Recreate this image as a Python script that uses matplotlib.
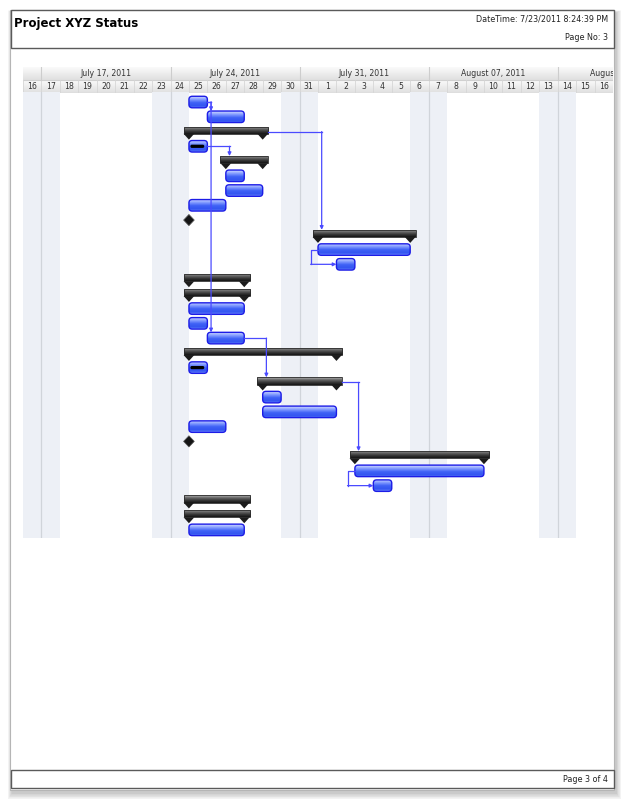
import datetime
import numpy as np
import matplotlib
matplotlib.use('Agg')
import matplotlib.pyplot as plt
from matplotlib.patches import FancyBboxPatch, Rectangle, Polygon
from matplotlib.colors import LinearSegmentedColormap

W, H = 628, 805
fmt = '%Y-%m-%d'

view_start = '2011-07-16'
view_days = 32

# one entry per gantt row, top to bottom
task_start = ['2011-07-25', '2011-07-26', '2011-07-25', '2011-07-25', '2011-07-27',
              '2011-07-27', '2011-07-27', '2011-07-25', '2011-07-25', '2011-08-01',
              '2011-08-01', '2011-08-02', '2011-07-25', '2011-07-25', '2011-07-25',
              '2011-07-25', '2011-07-26', '2011-07-25', '2011-07-25', '2011-07-29',
              '2011-07-29', '2011-07-29', '2011-07-25', '2011-07-25', '2011-08-03',
              '2011-08-03', '2011-08-04', '2011-07-25', '2011-07-25', '2011-07-25']
task_days = [1, 2, 4, 1, 2, 1, 2, 2, 0, 5,
             5, 1, 3, 3, 3, 1, 2, 8, 1, 4,
             1, 4, 2, 0, 7, 7, 1, 3, 3, 3]
task_kind = ['task', 'task', 'summary', 'task', 'summary',
             'task', 'task', 'task', 'milestone', 'summary',
             'task', 'task', 'summary', 'summary', 'task',
             'task', 'task', 'summary', 'task', 'summary',
             'task', 'task', 'task', 'milestone', 'summary',
             'task', 'task', 'summary', 'summary', 'task']
task_progress = [0, 0, 0, 0.75, 0, 0, 0, 0, 0, 0,
                 0, 0, 0, 0, 0, 0, 0, 0, 0.75, 0,
                 0, 0, 0, 0, 0, 0, 0, 0, 0, 0]
# (predecessor row, successor row, link type)
links = [(0, 1, 'FS'), (0, 16, 'FS'), (2, 9, 'FS'), (3, 4, 'FS'),
         (10, 11, 'SS'), (16, 19, 'FS'), (19, 24, 'FS'), (25, 26, 'SS')]

title = 'Project XYZ Status'
stamp = 'DateTime: 7/23/2011 8:24:39 PM'
page_no = 'Page No: 3'
page_of = 'Page 3 of 4'

d0 = datetime.datetime.strptime(view_start, fmt)
starts = [(datetime.datetime.strptime(s, fmt) - d0).days for s in task_start]
ends = [s + d for s, d in zip(starts, task_days)]
rows = list(range(len(task_kind)))

blue_cmap = LinearSegmentedColormap.from_list('blue', [(0, '#d2dcff'), (0.3, '#7f99ff'), (0.55, '#4062f6'),
                                                       (0.85, '#3355f0'), (1, '#7390ff')])
dark_cmap = LinearSegmentedColormap.from_list('dark', [(0, '#c0c0c0'), (0.3, '#707070'),
                                                       (0.65, '#3a3a3a'), (1, '#141414')])
head_cmap = LinearSegmentedColormap.from_list('head', ['#fafafa', '#e0e0e0'])
grad = np.linspace(0, 1, 64).reshape(-1, 1)

fig = plt.figure(figsize=(W / 100, H / 100), dpi=100)

# page sheet, shadow, header and footer boxes
bg = fig.add_axes([0, 0, 1, 1])
bg.set_xlim(0, W)
bg.set_ylim(H, 0)
bg.axis('off')
for k in range(9, 0, -1):
    bg.add_patch(Rectangle((10 - k * 0.5 + 2, 10 - k * 0.3 + 3), 604 + k * 1.1, 780 + k * 1.0,
                           fc='black', alpha=0.025, lw=0))
bg.add_patch(Rectangle((10, 10), 604, 780, fc='white', ec='#b5b5b5', lw=0.8))
bg.add_patch(Rectangle((10.5, 10.5), 603.5, 37.5, fc='white', ec='#5a5a5a', lw=1))
bg.add_patch(Rectangle((10.5, 770), 603.5, 18, fc='white', ec='#5a5a5a', lw=1))
bg.text(14, 23, title, fontsize=8.5, fontweight='bold', va='center', color='black')
bg.text(608, 19, stamp, fontsize=5.8, ha='right', va='center', color='#222222')
bg.text(608, 38, page_no, fontsize=5.8, ha='right', va='center', color='#222222')
bg.text(608, 779, page_of, fontsize=5.8, ha='right', va='center', color='#222222')

# timeline header
hx = fig.add_axes([23 / W, 1 - 93 / H, 590 / W, 26 / H])
hx.set_xlim(0, view_days)
hx.set_ylim(26, 0)
hx.axis('off')
hx.imshow(grad, extent=(0, view_days, 13, 0), aspect='auto', cmap=head_cmap, origin='upper', zorder=0)
hx.imshow(grad, extent=(0, view_days, 26, 13), aspect='auto', cmap=head_cmap, origin='upper', zorder=0)
hx.axhline(13, color='#d0d0d0', lw=0.8)
hx.axhline(25.6, color='#c4c4c4', lw=0.8)
for d in range(view_days):
    day = d0 + datetime.timedelta(days=d)
    hx.plot([d, d], [13, 26], color='#d6d6d6', lw=0.6)
    hx.text(d + 0.5, 19.7, str(day.day), fontsize=5.6, ha='center', va='center', color='#333333')
    if day.weekday() == 6:
        hx.plot([d, d], [0, 13], color='#cdcdcd', lw=0.8)
        # the last week label is cut by the page edge, as on the printed page
        hx.text(d + 3.5, 6.6, day.strftime('%B %d, %Y'), fontsize=5.6, ha='center', va='center',
                color='#333333', clip_on=True)
hx.set_xlim(0, view_days)
hx.set_ylim(26, 0)

# gantt body
ax = fig.add_axes([23 / W, 1 - 538 / H, 590 / W, 446 / H])
ax.patch.set_alpha(0)
ax.axis('off')
for d in range(view_days):
    day = d0 + datetime.timedelta(days=d)
    if day.weekday() >= 5:
        ax.axvspan(d, d + 1, color='#edf0f6', lw=0, zorder=0)
    if day.weekday() == 6:
        ax.axvline(d, color='#d0d4da', lw=0.9, zorder=0.5)

over = 0.29  # summary bar overhang in days


def bar_top(i):
    return i - (0.34 if task_kind[i] == 'summary' else 0.39)


def shaded(patch, cmap, z):
    ax.add_patch(patch)
    x, y, w, h = patch.get_x(), patch.get_y(), patch.get_width(), patch.get_height()
    im = ax.imshow(grad, extent=(x, x + w, y + h, y), aspect='auto', cmap=cmap, origin='upper', zorder=z)
    im.set_clip_path(patch)


for i in rows:
    s, e, kind = starts[i], ends[i], task_kind[i]
    if kind == 'task':
        p = FancyBboxPatch((s, i - 0.39), e - s, 0.78, boxstyle='round,pad=0,rounding_size=0.18',
                           mutation_aspect=1.25, fc='none', ec='#1c1ce6', lw=1.0, zorder=3)
        shaded(p, blue_cmap, 2.5)
        if task_progress[i] > 0:
            ax.add_patch(FancyBboxPatch((s + 0.08, i - 0.11), (e - s) * task_progress[i], 0.22,
                                        boxstyle='round,pad=0,rounding_size=0.08', mutation_aspect=1.25,
                                        fc='black', ec='none', zorder=4))
    elif kind == 'summary':
        p = Rectangle((s - over, i - 0.34), e - s + 2 * over, 0.5, fc='none', ec='#2b2b2b', lw=0.6, zorder=3)
        shaded(p, dark_cmap, 2.5)
        for x in (s, e):
            ax.add_patch(Polygon([(x - over, i + 0.15), (x + over, i + 0.15), (x, i + 0.55)],
                                 closed=True, fc='#1c1c1c', ec='none', zorder=3))
    else:
        ax.add_patch(Polygon([(s - over, i), (s, i - 0.38), (s + over, i), (s, i + 0.38)],
                             closed=True, fc='#151515', ec='#555555', lw=0.5, zorder=3))

link_color = '#4a4aff'
arrow = dict(arrowstyle='-|>', color=link_color, lw=0.9, mutation_scale=5, shrinkA=0, shrinkB=0)
for a, b, kind in links:
    if kind == 'FS':
        x0 = ends[a] + (over if task_kind[a] == 'summary' else 0)
        xv = starts[b] + 0.2
        ax.plot([x0, xv], [a, a], color=link_color, lw=0.9, zorder=5)
        ax.annotate('', xy=(xv, bar_top(b)), xytext=(xv, a), arrowprops=arrow, zorder=5)
    else:
        xv = starts[a] - 0.4
        ax.plot([starts[a], xv, xv], [a, a, b], color=link_color, lw=0.9, zorder=5)
        ax.annotate('', xy=(starts[b], b), xytext=(xv, b), arrowprops=arrow, zorder=5)

ax.set_xlim(0, view_days)
ax.set_ylim(29.55, -0.68)

fig.savefig('out.png', dpi=100)
